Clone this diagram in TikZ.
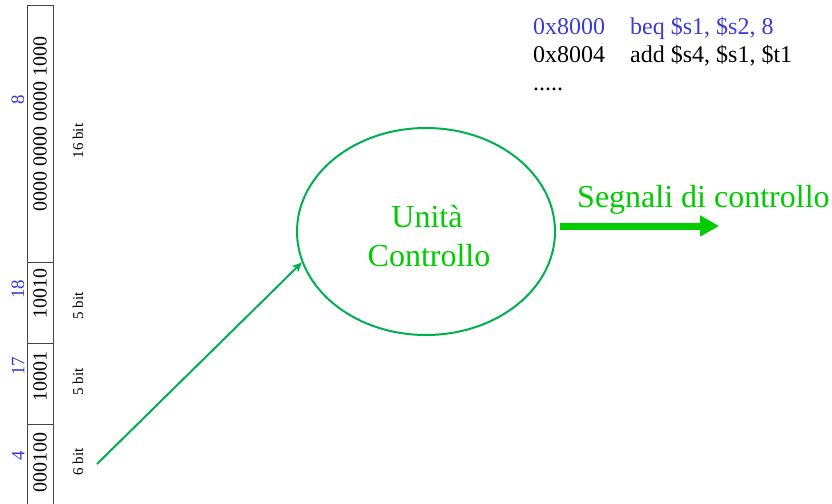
\documentclass[tikz,border=0pt]{standalone}
\usepackage{fontspec}
\setmainfont{Liberation Serif}
\usetikzlibrary{arrows.meta,shapes.geometric}
\definecolor{pgreen}{RGB}{0,176,80}
\definecolor{bgreen}{RGB}{0,204,0}
\definecolor{pblue}{RGB}{60,60,210}
\definecolor{pgray}{RGB}{70,70,70}
\tikzset{
  celltxt/.style={rotate=90,inner sep=0pt,font=\fontsize{20pt}{24pt}\selectfont},
  regnum/.style={rotate=90,inner sep=0pt,text=pblue,font=\fontsize{19pt}{23pt}\selectfont},
  bitlbl/.style={rotate=90,inner sep=0pt,font=\fontsize{15pt}{18pt}\selectfont},
  codetxt/.style={anchor=base west,inner sep=0pt,font=\fontsize{24pt}{28pt}\selectfont},
  ctltxt/.style={anchor=base,inner sep=0pt,text=bgreen,font=\fontsize{32pt}{38pt}\selectfont},
  cellline/.style={draw=pgray,line width=1pt},
}
\begin{document}
\begin{tikzpicture}[x=1pt,y=-1pt]
\useasboundingbox (0,0) rectangle (832,503);
% instruction word bar
\draw[cellline] (27,504) -- (27,6) -- (53,6) -- (53,504);
\draw[cellline] (27,262) -- (53,262);
\draw[cellline] (27,343) -- (53,343);
\draw[cellline] (27,424) -- (53,424);
\node[celltxt] (imm) at (40,124) {0000 0000 0000 1000};
\node[celltxt] (rt) at (40,293) {10010};
\node[celltxt] (rs) at (40,376) {10001};
\node[celltxt] (op) at (40,462) {000100};
\node[regnum] (n8) at (18,100) {8};
\node[regnum] (n18) at (18,289) {18};
\node[regnum] (n17) at (18,366) {17};
\node[regnum] (n4) at (18,456) {4};
\node[bitlbl] (b16) at (78,141) {16 bit};
\node[bitlbl] (b5a) at (78,306) {5 bit};
\node[bitlbl] (b5b) at (78,382) {5 bit};
\node[bitlbl] (b6) at (78,462) {6 bit};
% code
\node[codetxt,text=pblue] (a1) at (533,35) {0x8000};
\node[codetxt,text=pblue] (i1) at (630,35) {beq \$s1, \$s2, 8};
\node[codetxt] (a2) at (533,63) {0x8004};
\node[codetxt] (i2) at (630,63) {add \$s4, \$s1, \$t1};
\node[codetxt] (dots) at (533,90) {.....};
% control unit
\node[ellipse,draw=pgreen,line width=2pt,minimum width=258pt,minimum height=207pt,inner sep=0pt] (uc) at (426,231.5) {};
\node[ctltxt] (uc1) at (427,227) {Unità};
\node[ctltxt] (uc2) at (429,266) {Controllo};
\node[anchor=base west,inner sep=0pt,text=bgreen,font=\fontsize{32pt}{38pt}\selectfont] (sig) at (577,207) {Segnali di controllo};
% arrows
\coordinate (src) at (97,464);
\coordinate (dst) at (719,226);
\draw[pgreen,line width=2pt,-{Stealth[length=10pt,width=9pt]}] (src) -- (uc.194);
\draw[bgreen,line width=7pt,-{Triangle[length=19pt,width=20pt]},shorten <=4pt] (uc.east |- dst) -- (dst);
\end{tikzpicture}
\end{document}
